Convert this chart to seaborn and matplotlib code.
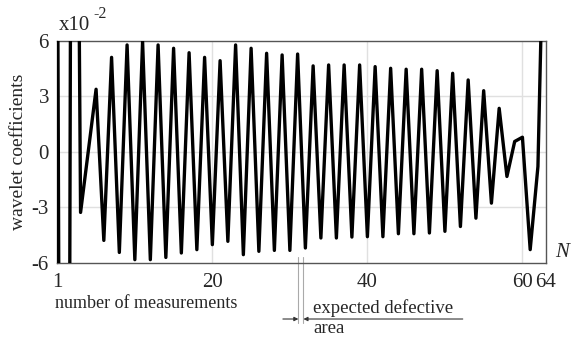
import numpy as np
import pandas as pd
import matplotlib as mpl
import matplotlib.pyplot as plt
import matplotlib.transforms as mtransforms
import seaborn as sns

sns.set_style("white")
plt.rcParams['font.family'] = ['Liberation Serif', 'DejaVu Serif']
mpl.rcParams['axes.unicode_minus'] = False

# wavelet coefficients (x10^-2) for measurements 1..64
coef = [15.3, -102.0, 55.0, -3.27, 0.05, 3.38, -4.78, 5.10, -5.43, 5.77,
        -5.82, 5.95, -5.82, 5.77, -5.70, 5.59, -5.46, 5.35, -5.28, 5.10,
        -5.01, 4.92, -4.83, 5.77, -5.55, 5.59, -5.37, 5.32, -5.32, 5.23,
        -5.32, 5.28, -5.19, 4.64, -4.65, 4.69, -4.65, 4.69, -4.60, 4.69,
        -4.58, 4.60, -4.58, 4.51, -4.42, 4.46, -4.42, 4.46, -4.38, 4.38,
        -4.29, 4.24, -4.03, 3.88, -3.58, 3.30, -2.77, 2.35, -1.33, 0.56,
        0.79, -5.28, -0.79, 17.6]
index = list(range(len(coef)))

x_ticks = [0, 20, 40, 60, 63]
x_labels = ["1", "20", "40", "60", "64"]
y_ticks = [-6, -3, 0, 3, 6]
defect_area = [31.1, 31.75]   # bounds of expected defective area (index units)

df = pd.DataFrame({"n": index, "w": coef})

fig = plt.figure(figsize=(5.72, 3.40), dpi=100)
ax = fig.add_axes([0.1002, 0.2265, 0.8538, 0.6538])

for v in [-3, 0, 3]:
    ax.axhline(v, color="#e0e0e0", lw=1.0, zorder=0)
for v in [20, 40, 60]:
    ax.axvline(v, color="#e0e0e0", lw=1.0, zorder=0)

sns.lineplot(data=df, x="n", y="w", ax=ax, color="black", lw=2.4, zorder=3)

ax.set_xlim(0, 63)
ax.set_ylim(-6, 6)
ax.set_xticks(x_ticks)
ax.set_xticklabels(x_labels)
ax.set_yticks(y_ticks)
ax.set_yticklabels([str(v) for v in y_ticks])
ax.tick_params(axis="both", length=0, labelsize=15)
ax.tick_params(axis="y", pad=6)
ax.tick_params(axis="x", pad=7)
ax.set_xlabel("")
ax.set_ylabel("wavelet coefficients", fontsize=14, labelpad=3)
for s in ax.spines.values():
    s.set_color("#555555")
    s.set_linewidth(1.0)

ax.text(0.003, 1.07, "x10", transform=ax.transAxes, fontsize=15, va="center", ha="left")
ax.text(0.073, 1.12, "-2", transform=ax.transAxes, fontsize=11.5, va="center", ha="left")
ax.text(1.033, 0.045, "N", transform=ax.transAxes, fontsize=15, style="italic", va="center", ha="center")
ax.text(-0.004, -0.18, "number of measurements", transform=ax.transAxes, fontsize=13, va="center", ha="left")

trans = mtransforms.blended_transform_factory(ax.transData, ax.transAxes)
for xd in defect_area:
    ax.plot([xd, xd], [0.027, -0.27], transform=trans, color="#aaaaaa", lw=0.8, clip_on=False)
ax.annotate("", xy=(defect_area[0], -0.252), xytext=(29.1, -0.252), xycoords=trans, textcoords=trans,
            arrowprops=dict(arrowstyle="-|>", color="#333333", lw=0.8, mutation_scale=6, shrinkA=0, shrinkB=0))
ax.annotate("", xy=(defect_area[1], -0.252), xytext=(52.3, -0.252), xycoords=trans, textcoords=trans,
            arrowprops=dict(arrowstyle="-|>", color="#333333", lw=0.8, mutation_scale=6, shrinkA=0, shrinkB=0))
ax.text(33.0, -0.205, "expected defective", transform=trans, fontsize=13.5, va="center", ha="left")
ax.text(33.0, -0.295, "area", transform=trans, fontsize=13.5, va="center", ha="left")

plt.savefig("out.png", dpi=100)
